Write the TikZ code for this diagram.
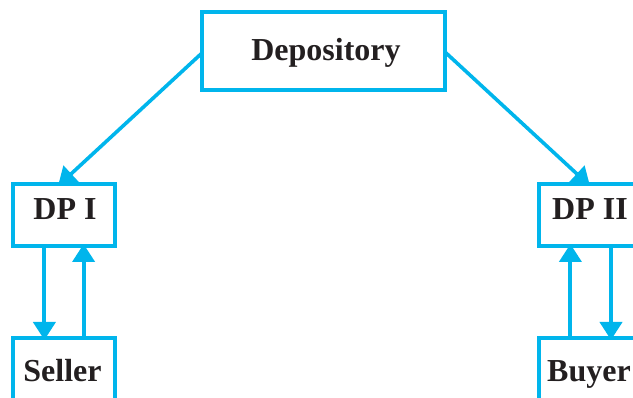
\documentclass[tikz,border=0pt]{standalone}
\usepackage{fontspec}
\setmainfont{Liberation Serif}
\usetikzlibrary{arrows.meta}
\definecolor{dcyan}{RGB}{0,181,236}
\definecolor{ink}{RGB}{35,31,32}
\begin{document}
\begin{tikzpicture}[x=1pt,y=-1pt,
  box/.style={draw=dcyan,line width=4pt,outer sep=0pt,inner sep=0pt},
  lbl/.style={anchor=base,inner sep=0pt,font=\fontsize{32}{36}\selectfont\bfseries,text=ink},
  conn/.style={draw=dcyan,line width=3.6pt,-{Triangle[width=22pt,length=18pt]}},
  vconn/.style={conn,line width=4pt}]
\useasboundingbox (0,0) rectangle (633,398);
\clip (0,0) rectangle (633,398);
\node[box,minimum width=243pt,minimum height=78pt] (dep) at (323.5,51) {};
\node[box,minimum width=102pt,minimum height=62pt] (dp1) at (64,215) {};
\node[box,minimum width=102pt,minimum height=62pt] (dp2) at (590,215) {};
\node[box,minimum width=102pt,minimum height=62pt] (sel) at (64,369) {};
\node[box,minimum width=102pt,minimum height=62pt] (buy) at (590,369) {};
\node[lbl] (tdep) at (326,61) {Depository};
\node[lbl] (tdp1) at (65,220) {DP I};
\node[lbl] (tdp2) at (590,220) {DP II};
\node[lbl] (tsel) at (62.5,382) {Seller};
\node[lbl] (tbuy) at (589,382) {Buyer};
\draw[conn] ([yshift=-2pt]dep.west) -- ([xshift=-6pt,yshift=-2pt]dp1.north);
\draw[conn] ([yshift=-1pt]dep.east) -- ([yshift=-2pt]dp2.north);
\draw[vconn] ([xshift=-19.6pt]dp1.south) -- ([xshift=-19.6pt,yshift=-2pt]sel.north);
\draw[vconn] ([xshift=19.6pt]sel.north) -- ([xshift=19.6pt,yshift=2pt]dp1.south);
\draw[vconn] ([xshift=-19.6pt]buy.north) -- ([xshift=-19.6pt,yshift=2pt]dp2.south);
\draw[vconn] ([xshift=21pt]dp2.south) -- ([xshift=21pt,yshift=-2pt]buy.north);
\end{tikzpicture}
\end{document}
